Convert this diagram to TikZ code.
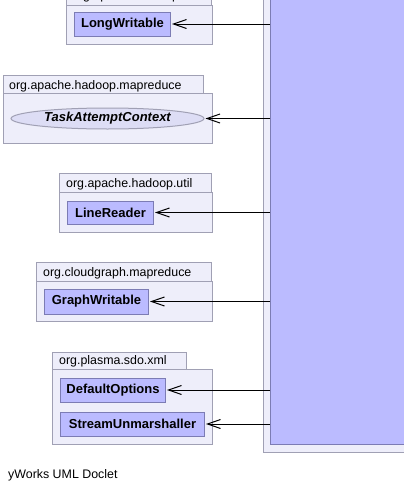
\documentclass[tikz,border=0pt]{standalone}
\usepackage{fontspec}
\setmainfont{Liberation Sans}
\usetikzlibrary{arrows.meta,shapes.geometric}
\definecolor{pkgfill}{HTML}{EEEEFA}
\definecolor{pkgline}{HTML}{A0A0B4}
\definecolor{clsfill}{HTML}{BBBBFF}
\definecolor{clsline}{HTML}{7C7CB4}
\definecolor{ifacefill}{HTML}{DDDDF5}
\tikzset{
  % package frame and tab
  package/.style={fill=pkgfill, draw=pkgline, line width=1pt},
  pkg label/.style={anchor=base west, inner sep=0pt, font=\fontsize{12.4}{14}\selectfont},
  % class box
  class/.style={draw=clsline, fill=clsfill, line width=1pt, anchor=west, inner sep=0pt,
    minimum height=24pt, font=\bfseries\fontsize{13}{15}\selectfont},
  iface/.style={ellipse, draw=pkgline, fill=ifacefill, line width=1pt, inner sep=0pt,
    font=\bfseries\itshape\fontsize{13}{15}\selectfont},
  % dependency arrow
  uses/.style={line width=1pt, -{Straight Barb[length=13pt,width=9pt]}, shorten >=1pt},
}
\begin{document}
\begin{tikzpicture}[x=1pt,y=-1pt]
\useasboundingbox (0,0) rectangle (404,490);
  % the big class on the right
  \filldraw[package] (263,-20) rectangle (420,452);
  \node[class, anchor=north west, minimum width=160pt, minimum height=460pt] (main) at (270,-16) {};
  % org.apache.hadoop.io
  \filldraw[package] (66,-14) rectangle (211,5);
  \filldraw[package] (66,5) rectangle (212,44);
  \node[pkg label] (io) at (72,-1) {org.apache.hadoop.io};
  \node[class, minimum width=96pt] (lw) at (74,24) {LongWritable};
  % org.apache.hadoop.mapreduce
  \filldraw[package] (3,75) rectangle (203,93);
  \filldraw[package] (3,93) rectangle (212,143);
  \node[pkg label] (mr) at (9,89) {org.apache.hadoop.mapreduce};
  \node[iface, minimum width=193pt, minimum height=21pt] (ctx) at (107.5,118.5) {TaskAttemptContext};
  % org.apache.hadoop.util
  \filldraw[package] (59,173) rectangle (211,192);
  \filldraw[package] (59,192) rectangle (212,232);
  \node[pkg label] (util) at (66,187) {org.apache.hadoop.util};
  \node[class, minimum width=86pt, minimum height=23pt] (lr) at (67,212.5) {LineReader};
  % org.cloudgraph.mapreduce
  \filldraw[package] (36,262) rectangle (211,281);
  \filldraw[package] (36,281) rectangle (212,321);
  \node[pkg label] (cg) at (43,276) {org.cloudgraph.mapreduce};
  \node[class, minimum width=104pt, minimum height=25pt] (gw) at (44,301.5) {GraphWritable};
  % org.plasma.sdo.xml
  \filldraw[package] (52,352) rectangle (186,369);
  \filldraw[package] (52,369) rectangle (212,444);
  \node[pkg label] (xml) at (59,364) {org.plasma.sdo.xml};
  \node[class, minimum width=105pt] (dopt) at (60,390) {DefaultOptions};
  \node[class, minimum width=144pt] (su) at (60,424) {StreamUnmarshaller};
  % dependencies
  \foreach \c in {lw,ctx,lr,gw,dopt,su}
    \draw[uses] (\c -| main.west) -- (\c);
  \node[pkg label] (doclet) at (8,478) {yWorks UML Doclet};
\end{tikzpicture}
\end{document}
